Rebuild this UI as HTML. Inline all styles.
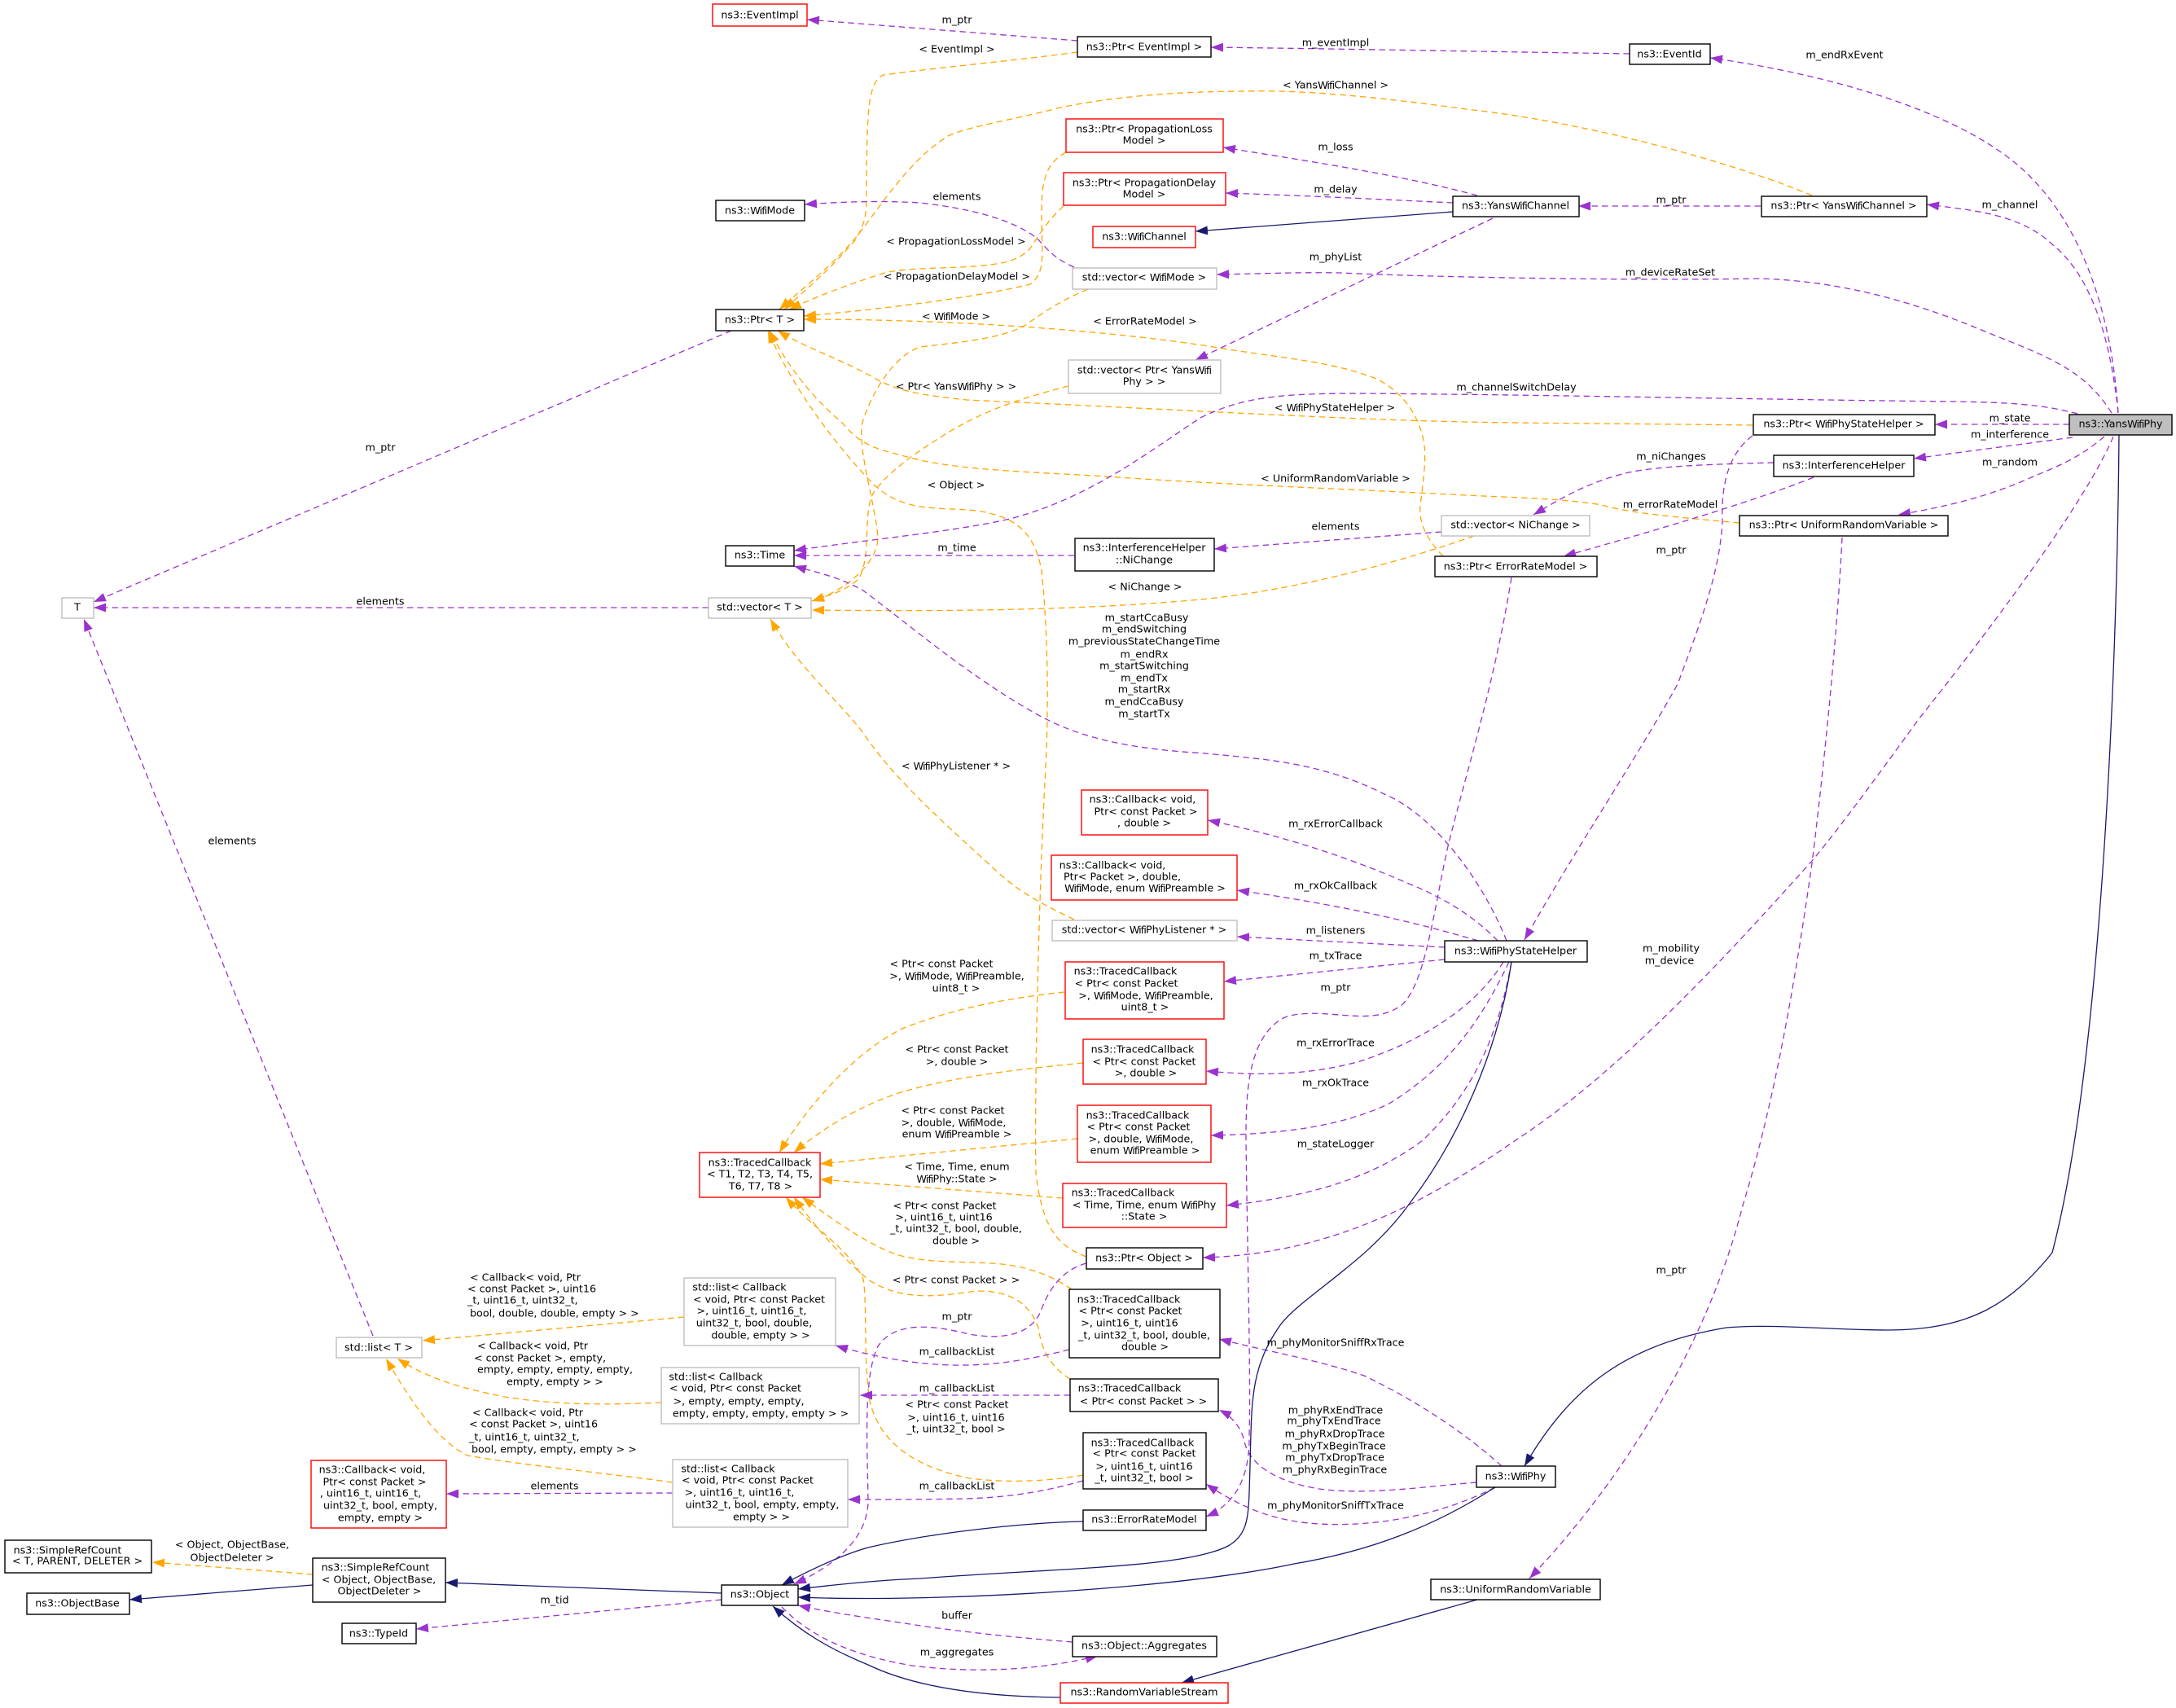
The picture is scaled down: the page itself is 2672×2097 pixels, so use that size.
<!DOCTYPE html>
<html><head><meta charset="utf-8"><style>
html,body{margin:0;padding:0;background:#fff}
svg{display:block}
text{font-family:"DejaVu Sans",sans-serif;font-size:12.7px;text-anchor:middle;dominant-baseline:central;fill:#000;stroke:none}
.s{text-anchor:start}
.f{letter-spacing:-.9px}
rect{fill:#fff;stroke-width:1.4}
.k rect{stroke:#000}.r rect{stroke:#f00}.g rect{stroke:#bfbfbf}
path{fill:none;stroke-width:1.3}
.P path{stroke:#9a32cd;stroke-dasharray:7.5,5;marker-end:url(#mp)}
.O path{stroke:#ffa500;stroke-dasharray:7.5,5;marker-end:url(#mo)}
.N path{stroke:#191970;marker-end:url(#mn)}
</style></head><body>
<svg xmlns="http://www.w3.org/2000/svg" width="2672" height="2097" viewBox="0 0 2672 2097">
<defs>
<marker id="mp" viewBox="0 0 15 11" refX="15" refY="5.5" markerWidth="15" markerHeight="11" orient="auto" markerUnits="userSpaceOnUse"><polygon points="0,0 15,5.5 0,11" fill="#9a32cd"/></marker>
<marker id="mo" viewBox="0 0 15 11" refX="15" refY="5.5" markerWidth="15" markerHeight="11" orient="auto" markerUnits="userSpaceOnUse"><polygon points="0,0 15,5.5 0,11" fill="#ffa500"/></marker>
<marker id="mn" viewBox="0 0 15 11" refX="15" refY="5.5" markerWidth="15" markerHeight="11" orient="auto" markerUnits="userSpaceOnUse"><polygon points="0,0 15,5.5 0,11" fill="#191970"/></marker>
</defs>
<g class="O">
<path d="M1323,64 C1250,74 1150,83 1085,92 C1065,100 1065,140 1064,223 C1064,260 1065,270 1050,295 C1020,330 990,355 963,380"/>
<path d="M2225,240 C2130,200 1950,150 1800,134 C1700,120 1600,110 1531,112 C1450,112 1370,118 1302,132 C1240,148 1190,155 1164,167 C1120,195 1090,240 1060,280 C1030,320 990,350 957,380"/>
<path d="M1309,187 C1285,200 1279,220 1279,260 C1279,310 1285,335 1265,349 C1200,365 1080,380 987,388"/>
<path d="M1306,253 C1285,272 1275,290 1265,305 C1250,320 1235,325 1180,328 C1130,330 1100,330 1080,337 C1040,350 1000,365 969,380"/>
<path d="M1772,683 C1750,660 1742,640 1744,620 C1748,590 1752,560 1748,540 C1740,505 1720,480 1690,465 C1640,445 1580,440 1508,429 C1400,410 1200,392 987,392"/>
<path d="M2152,522 C2000,520 1900,520 1800,518 C1650,515 1450,503 1187,491 C1130,485 1100,480 1070,462 C1030,440 985,425 955,406"/>
<path d="M2136,642 C2060,635 2000,630 1967,620 C1920,612 1860,611 1800,608 C1650,600 1500,595 1359,585 C1280,580 1190,578 1130,565 C1080,552 1060,550 1035,520 C1000,490 970,455 945,406"/>
<path d="M1334,1543 C1300,1530 1280,1510 1272,1440 C1270,1350 1275,1100 1285,923 C1288,830 1285,760 1279,700 C1270,655 1250,635 1200,627 C1150,622 1110,630 1072,594 C1020,540 970,470 943,406"/>
<path d="M1336,355 C1300,370 1280,385 1265,395 C1240,415 1180,420 1130,426 C1100,435 1070,480 1058,522 C1055,560 1075,620 1078,660 C1078,690 1040,725 997,738"/>
<path d="M1312,474 C1270,485 1210,500 1150,540 C1110,565 1080,590 1070,610 C1060,640 1070,680 1055,710 C1040,725 1020,730 997,738"/>
<path d="M1810,658 C1720,690 1590,725 1474,736 C1300,752 1100,750 997,749"/>
<path d="M1319,1129 C1280,1110 1250,1095 1220,1066 C1170,1020 1100,960 1060,900 C1030,860 980,820 946,760"/>
<path d="M1307,1218 C1250,1224 1180,1235 1110,1262 C1050,1290 990,1360 957,1415"/>
<path d="M1330,1305 C1260,1312 1180,1320 1110,1340 C1060,1355 1010,1385 975,1415"/>
<path d="M1323,1398 L1007,1429"/>
<path d="M1305,1471 L1007,1448"/>
<path d="M1316,1583 C1290,1565 1260,1555 1230,1552 C1190,1548 1140,1552 1100,1540 C1060,1525 1020,1495 985,1470"/>
<path d="M1314,1693 C1285,1675 1278,1650 1275,1630 C1262,1595 1235,1585 1200,1585 C1160,1590 1110,1600 1066,1571 C1030,1540 1000,1505 975,1470"/>
<path d="M1330,1811 C1280,1820 1230,1820 1190,1815 C1120,1800 1080,1770 1068,1720 C1060,1670 1065,1600 1060,1570 C1040,1530 1000,1510 965,1470"/>
<path d="M840,1617 L519,1646"/>
<path d="M812,1722 C750,1725 680,1725 620,1715 C570,1705 530,1695 488,1668"/>
<path d="M826,1820 C740,1808 650,1800 574,1787 C540,1770 510,1730 474,1668"/>
<path d="M384,1933 L187,1918"/>
</g>
<g class="P">
<path d="M1323,50 L991,24"/>
<path d="M2001,66 C1800,63 1650,60 1487,58"/>
<path d="M2601,507 C2592,370 2550,275 2495,219 C2420,140 2250,92 2100,71"/>
<path d="M2162,253 L1938,253"/>
<path d="M2601,507 C2592,420 2570,340 2520,300 C2480,262 2420,258 2366,251"/>
<path d="M2593,507 C2560,455 2520,440 2440,408 C2350,370 2260,345 2161,342 C2000,345 1750,340 1646,335 C1600,334 1550,336 1494,337"/>
<path d="M1814,240 C1720,215 1620,200 1502,181"/>
<path d="M1784,249 C1700,245 1600,240 1505,237"/>
<path d="M1833,268 L1468,442"/>
<path d="M2551,508 C2510,497 2470,494 2400,493 C2200,491 1900,485 1770,484 C1600,482 1540,480 1474,513 C1410,555 1340,610 1244,636 C1180,652 1060,663 975,676"/>
<path d="M2541,521 L2376,521"/>
<path d="M2545,537 L2350,563"/>
<path d="M2584,536 C2550,565 2520,575 2490,588 C2440,610 2390,622 2331,632"/>
<path d="M2595,536 C2560,620 2430,790 2356,883 C2300,960 2260,1015 2225,1057 C2150,1140 2000,1310 1861,1400 C1760,1470 1640,1540 1477,1544"/>
<path d="M2262,660 C2255,800 2235,980 2225,1060 C2205,1200 2180,1350 2140,1480 C2100,1640 2000,1810 1878,1938"/>
<path d="M1334,1551 C1300,1560 1285,1590 1278,1610 C1265,1640 1230,1645 1190,1638 C1150,1628 1100,1620 1078,1653 C1060,1690 1065,1770 1066,1844 C1065,1880 1040,1915 975,1945"/>
<path d="M898,406 L115,739"/>
<path d="M870,746 L115,746"/>
<path d="M458,1640 L103,760"/>
<path d="M1319,328 C1295,318 1285,305 1273,292 C1240,268 1190,256 1130,249 C1080,246 1030,248 988,251"/>
<path d="M1319,682 L975,682"/>
<path d="M1770,653 L1491,674"/>
<path d="M2178,568 C2100,570 2040,572 2000,580 C1950,592 1920,610 1883,632"/>
<path d="M2227,586 C2150,617 2020,655 1920,683"/>
<path d="M2152,535 C2125,555 2113,590 2115,640 C2112,700 2090,760 2060,840 C2010,930 1930,1050 1872,1154"/>
<path d="M1856,709 C1835,840 1800,950 1778,1039 C1760,1120 1750,1210 1720,1235 C1680,1262 1630,1235 1580,1248 C1530,1270 1530,1350 1530,1400 C1532,1550 1536,1700 1534,1760 C1535,1810 1520,1845 1481,1862"/>
<path d="M1850,1155 C1820,1080 1760,1000 1700,975 C1620,935 1550,932 1480,925 C1400,920 1330,910 1270,875 C1190,830 1120,770 1060,725 C1030,708 1000,702 975,695"/>
<path d="M1839,1155 C1815,1130 1780,1105 1730,1085 C1650,1050 1570,1025 1483,1007"/>
<path d="M1815,1155 C1730,1130 1640,1110 1519,1093"/>
<path d="M1774,1163 L1519,1150"/>
<path d="M1774,1178 L1503,1205"/>
<path d="M1846,1181 C1810,1240 1740,1280 1670,1303 C1600,1322 1540,1320 1481,1315"/>
<path d="M1853,1181 C1820,1250 1780,1310 1704,1356 C1640,1385 1570,1392 1487,1394"/>
<path d="M1856,1181 C1840,1270 1810,1340 1747,1400 C1680,1450 1600,1470 1506,1480"/>
<path d="M1844,1800 C1800,1760 1740,1720 1675,1689 C1620,1670 1560,1660 1497,1644"/>
<path d="M1813,1820 C1750,1825 1680,1836 1620,1828 C1570,1820 1535,1800 1528,1770 C1525,1755 1515,1740 1497,1731"/>
<path d="M1836,1826 C1770,1860 1690,1875 1620,1871 C1570,1868 1530,1855 1481,1822"/>
<path d="M1313,1657 C1260,1670 1220,1677 1170,1676 C1120,1675 1070,1665 1026,1652"/>
<path d="M1314,1713 L1056,1713"/>
<path d="M1330,1818 C1280,1832 1240,1838 1187,1840 C1140,1841 1090,1841 1041,1841"/>
<path d="M826,1833 L548,1834"/>
<path d="M886,1964 L511,2000"/>
<path d="M1317,2016 C1240,2010 1180,2003 1130,1996 C1080,1988 1030,1982 980,1971"/>
<path d="M960,1973 C1000,2015 1060,2035 1120,2045 C1200,2055 1280,2050 1348,2033"/>
</g>
<g class="N">
<path d="M1784,260 L1468,284"/>
<path d="M2602,534 C2600,800 2582,1300 2520,1538 C2470,1600 2420,1633 2317,1633 C2250,1633 2180,1625 2120,1630 C2000,1650 1930,1700 1872,1800"/>
<path d="M1836,1826 C1760,1875 1680,1905 1589,1920 C1450,1950 1150,1968 980,1961"/>
<path d="M1856,1181 C1840,1290 1790,1400 1732,1476 C1680,1550 1600,1590 1572,1627 C1535,1680 1537,1720 1535,1800 C1533,1860 1535,1880 1510,1897 C1460,1925 1300,1925 1130,1938 C1080,1940 1030,1945 980,1951"/>
<path d="M1330,1868 C1240,1870 1130,1885 1066,1900 C1030,1910 990,1930 960,1946"/>
<path d="M1302,2084 C1200,2083 1120,2070 1066,2044 C1020,2025 985,2005 949,1972"/>
<path d="M1814,1964 L1451,2066"/>
<path d="M384,1946 L159,1964"/>
<path d="M886,1956 L547,1943"/>
</g>
<g class="k">
<rect x="1323" y="45" width="164" height="25"/>
<rect x="2001" y="54" width="99" height="25"/>
<rect x="1784" y="241" width="155" height="25"/>
<rect x="2163" y="241" width="203" height="25"/>
<rect x="2153" y="509" width="223" height="25"/>
<rect x="2178" y="559" width="172" height="26"/>
<rect x="2136" y="633" width="256" height="25"/>
<rect x="1762" y="683" width="199" height="25"/>
<rect x="879" y="246" width="109" height="25"/>
<rect x="879" y="380" width="108" height="26"/>
<rect x="891" y="670" width="84" height="25"/>
<rect x="1320" y="661" width="171" height="40"/>
<rect x="1774" y="1155" width="175" height="26"/>
<rect x="1334" y="1532" width="143" height="26"/>
<rect x="1313" y="1583" width="185" height="84"/>
<rect x="1314" y="1693" width="182" height="40"/>
<rect x="1330" y="1759" width="151" height="69"/>
<rect x="1330" y="1854" width="151" height="25"/>
<rect x="1813" y="1800" width="97" height="26"/>
<rect x="1757" y="1939" width="208" height="25"/>
<rect x="886" y="1946" width="94" height="25"/>
<rect x="1317" y="2009" width="177" height="25"/>
<rect x="6" y="1891" width="180" height="40"/>
<rect x="384" y="1913" width="163" height="54"/>
<rect x="33" y="1956" width="126" height="26"/>
<rect x="420" y="1993" width="91" height="25"/>
</g>
<g class="r">
<rect x="875" y="5" width="116" height="27"/>
<rect x="1309" y="146" width="193" height="41"/>
<rect x="1306" y="212" width="199" height="40"/>
<rect x="1342" y="278" width="126" height="26"/>
<rect x="1328" y="970" width="155" height="55"/>
<rect x="1291" y="1050" width="228" height="55"/>
<rect x="1308" y="1181" width="195" height="70"/>
<rect x="1330" y="1276" width="151" height="55"/>
<rect x="1323" y="1357" width="164" height="70"/>
<rect x="859" y="1415" width="148" height="55"/>
<rect x="1305" y="1453" width="201" height="54"/>
<rect x="382" y="1793" width="166" height="83"/>
<rect x="1302" y="2066" width="206" height="25"/>
</g>
<g class="g">
<rect x="1317" y="329" width="177" height="26"/>
<rect x="1312" y="442" width="187" height="41"/>
<rect x="1770" y="633" width="182" height="25"/>
<rect x="76" y="734" width="39" height="25"/>
<rect x="870" y="734" width="126" height="25"/>
<rect x="1292" y="1130" width="227" height="25"/>
<rect x="413" y="1642" width="105" height="25"/>
<rect x="840" y="1569" width="186" height="83"/>
<rect x="812" y="1679" width="243" height="69"/>
<rect x="826" y="1792" width="215" height="83"/>
</g>
<rect x="2541" y="509" width="126" height="25" style="fill:#bfbfbf;stroke:#000"/>

<!-- node labels -->
<text x="933" y="18">ns3::EventImpl</text>
<text x="1405" y="57">ns3::Ptr&lt; EventImpl &gt;</text>
<text x="2050" y="66">ns3::EventId</text>
<text x="1405" y="158">ns3::Ptr&lt; PropagationLoss</text><text x="1405" y="172">Model &gt;</text>
<text x="1405" y="224">ns3::Ptr&lt; PropagationDelay</text><text x="1405" y="238">Model &gt;</text>
<text x="1405" y="290">ns3::<tspan class="f">Wifi</tspan>Channel</text>
<text x="1861" y="252">ns3::Yans<tspan class="f">Wifi</tspan>Channel</text>
<text x="2264" y="252">ns3::Ptr&lt; Yans<tspan class="f">Wifi</tspan>Channel &gt;</text>
<text x="933" y="258">ns3::<tspan class="f">Wifi</tspan>Mode</text>
<text x="1405" y="340">std::vector&lt; <tspan class="f">Wifi</tspan>Mode &gt;</text>
<text x="933" y="392">ns3::Ptr&lt; T &gt;</text>
<text x="1405" y="454">std::vector&lt; Ptr&lt; Yans<tspan class="f">Wifi</tspan></text><text x="1405" y="468">Phy &gt; &gt;</text>
<text x="2264" y="520">ns3::Ptr&lt; <tspan class="f">Wifi</tspan>PhyStateHelper &gt;</text>
<text x="2604" y="520">ns3::Yans<tspan class="f">Wifi</tspan>Phy</text>
<text x="2264" y="571">ns3::InterferenceHelper</text>
<text x="2264" y="644">ns3::Ptr&lt; UniformRandomVariable &gt;</text>
<text x="1861" y="644">std::vector&lt; NiChange &gt;</text>
<text x="1861" y="695">ns3::Ptr&lt; ErrorRateModel &gt;</text>
<text x="933" y="681">ns3::Time</text>
<text x="1405" y="672">ns3::InterferenceHelper</text><text x="1405" y="687">::NiChange</text>
<text x="95" y="745">T</text>
<text x="933" y="745">std::vector&lt; T &gt;</text>
<text x="1403" y="981">ns3::Callback&lt; void,</text><text x="1407" y="996">Ptr&lt; const Packet &gt;</text><text x="1405" y="1010">, double &gt;</text>
<text x="1366" y="1062">ns3::Callback&lt; void,</text><text x="1378" y="1076">Ptr&lt; Packet &gt;, double,</text><text x="1406" y="1090"><tspan class="f">Wifi</tspan>Mode, enum <tspan class="f">Wifi</tspan>Preamble &gt;</text>
<text x="1405" y="1141">std::vector&lt; <tspan class="f">Wifi</tspan>PhyListener * &gt;</text>
<text x="1861" y="1167">ns3::<tspan class="f">Wifi</tspan>PhyStateHelper</text>
<text x="1382" y="1192">ns3::TracedCallback</text><text x="1383" y="1207">&lt; Ptr&lt; const Packet</text><text x="1407" y="1222">&gt;, <tspan class="f">Wifi</tspan>Mode, <tspan class="f">Wifi</tspan>Preamble,</text><text x="1406" y="1236">uint8_t &gt;</text>
<text x="1403" y="1288">ns3::TracedCallback</text><text x="1405" y="1303">&lt; Ptr&lt; const Packet</text><text x="1407" y="1317">&gt;, double &gt;</text>
<text x="1397" y="1369">ns3::TracedCallback</text><text x="1398" y="1383">&lt; Ptr&lt; const Packet</text><text x="1401" y="1398">&gt;, double, <tspan class="f">Wifi</tspan>Mode,</text><text x="1406" y="1412">enum <tspan class="f">Wifi</tspan>Preamble &gt;</text>
<text x="933" y="1427">ns3::TracedCallback</text><text x="933" y="1441">&lt; T1, T2, T3, T4, T5,</text><text x="934" y="1456">T6, T7, T8 &gt;</text>
<text x="1379" y="1464">ns3::TracedCallback</text><text x="1405" y="1479">&lt; Time, Time, enum <tspan class="f">Wifi</tspan>Phy</text><text x="1405" y="1493">::State &gt;</text>
<text x="1405" y="1544">ns3::Ptr&lt; Object &gt;</text>
<text x="1386" y="1595">ns3::TracedCallback</text><text x="1388" y="1609">&lt; Ptr&lt; const Packet</text><text x="1387" y="1624">&gt;, uint16_t, uint16</text><text x="1405" y="1639">_t, uint32_t, bool, double,</text><text x="1406" y="1653">double &gt;</text>
<text x="1387" y="1704">ns3::TracedCallback</text><text x="1404" y="1720">&lt; Ptr&lt; const Packet &gt; &gt;</text>
<text x="1403" y="1771">ns3::TracedCallback</text><text x="1405" y="1784">&lt; Ptr&lt; const Packet</text><text x="1405" y="1800">&gt;, uint16_t, uint16</text><text x="1405" y="1814">_t, uint32_t, bool &gt;</text>
<text x="1405" y="1865">ns3::ErrorRateModel</text>
<text x="1861" y="1812">ns3::<tspan class="f">Wifi</tspan>Phy</text>
<text x="1861" y="1951">ns3::UniformRandomVariable</text>
<text x="933" y="1957">ns3::Object</text>
<text x="1405" y="2020">ns3::Object::Aggregates</text>
<text x="1405" y="2077">ns3::RandomVariableStream</text>
<text x="908" y="1580">std::list&lt; Callback</text><text x="932" y="1595">&lt; void, Ptr&lt; const Packet</text><text x="923" y="1609">&gt;, uint16_t, uint16_t,</text><text x="926" y="1624">uint32_t, bool, double,</text><text x="934" y="1639">double, empty &gt; &gt;</text>
<text x="879" y="1690">std::list&lt; Callback</text><text x="903" y="1704">&lt; void, Ptr&lt; const Packet</text><text x="907" y="1720">&gt;, empty, empty, empty,</text><text x="934" y="1735">empty, empty, empty, empty &gt; &gt;</text>
<text x="894" y="1803">std::list&lt; Callback</text><text x="918" y="1817">&lt; void, Ptr&lt; const Packet</text><text x="908" y="1832">&gt;, uint16_t, uint16_t,</text><text x="936" y="1847">uint32_t, bool, empty, empty,</text><text x="935" y="1862">empty &gt; &gt;</text>
<text x="465" y="1654">std::list&lt; T &gt;</text>
<text x="457" y="1804">ns3::Callback&lt; void,</text><text x="460" y="1819">Ptr&lt; const Packet &gt;</text><text x="455" y="1833">, uint16_t, uint16_t,</text><text x="467" y="1848">uint32_t, bool, empty,</text><text x="467" y="1863">empty, empty &gt;</text>
<text x="83" y="1903">ns3::SimpleRefCount</text><text x="95" y="1916">&lt; T, PARENT, DELETER &gt;</text>
<text x="461" y="1924">ns3::SimpleRefCount</text><text x="465" y="1939">&lt; Object, ObjectBase,</text><text x="466" y="1953">ObjectDeleter &gt;</text>
<text x="95" y="1968">ns3::ObjectBase</text>
<text x="465" y="2005">ns3::TypeId</text>

<!-- edge labels -->
<text x="467" y="549">m_ptr</text>
<text x="1175" y="24">m_ptr</text>
<text x="1175" y="60">&lt; EventImpl &gt;</text>
<text x="1640" y="52">m_eventImpl</text>
<text x="1640" y="104">&lt; Yans<tspan class="f">Wifi</tspan>Channel &gt;</text>
<text x="1640" y="180">m_loss</text>
<text x="1640" y="232">m_delay</text>
<text x="1175" y="241">elements</text>
<text x="1640" y="315">m_phyList</text>
<text x="1174" y="296">&lt; PropagationLossModel &gt;</text>
<text x="1175" y="339">&lt; PropagationDelayModel &gt;</text>
<text x="1174" y="388">&lt; <tspan class="f">Wifi</tspan>Mode &gt;</text>
<text x="1406" y="394">&lt; ErrorRateModel &gt;</text>
<text x="1174" y="474">&lt; Ptr&lt; Yans<tspan class="f">Wifi</tspan>Phy &gt; &gt;</text>
<text x="1639" y="500">&lt; <tspan class="f">Wifi</tspan>PhyStateHelper &gt;</text>
<text x="1640" y="587">&lt; UniformRandomVariable &gt;</text>
<text x="1174" y="595">&lt; Object &gt;</text>
<text x="1640" y="646">elements</text>
<text x="1175" y="672">m_time</text>
<text x="2265" y="67">m_endRxEvent</text>
<text x="2052" y="245">m_ptr</text>
<text x="2468" y="251">m_channel</text>
<text x="2051" y="334">m_deviceRateSet</text>
<text x="1862" y="475">m_channelSwitchDelay</text>
<text x="2468" y="513">m_state</text>
<text x="2468" y="533">m_interference</text>
<text x="2052" y="560">m_niChanges</text>
<text x="2468" y="567">m_random</text>
<text x="2051" y="619">m_errorRateModel</text>
<text x="2052" y="675">m_ptr</text>
<text x="467" y="738">elements</text>
<text x="285" y="1032">elements</text>
<text x="1406" y="720">&lt; NiChange &gt;</text>
<text x="1408" y="758">m_startCcaBusy</text><text x="1405" y="772">m_endSwitching</text><text x="1405" y="787">m_previousStateChangeTime</text><text x="1405" y="803">m_endRx</text><text x="1405" y="817">m_startSwitching</text><text x="1405" y="832">m_endTx</text><text x="1405" y="846">m_startRx</text><text x="1405" y="861">m_endCcaBusy</text><text x="1405" y="876">m_startTx</text>
<text x="1174" y="940">&lt; <tspan class="f">Wifi</tspan>PhyListener * &gt;</text>
<text x="1640" y="1011">m_rxErrorCallback</text>
<text x="1640" y="1087">m_rxOkCallback</text>
<text x="1640" y="1142">m_listeners</text>
<text x="1640" y="1173">m_txTrace</text>
<text x="1640" y="1212">m_ptr</text>
<text x="1156" y="1183">&lt; Ptr&lt; const Packet</text><text x="1175" y="1198">&gt;, <tspan class="f">Wifi</tspan>Mode, <tspan class="f">Wifi</tspan>Preamble,</text><text x="1174" y="1213">uint8_t &gt;</text>
<text x="1175" y="1288">&lt; Ptr&lt; const Packet</text><text x="1175" y="1303">&gt;, double &gt;</text>
<text x="1640" y="1280">m_rxErrorTrace</text>
<text x="1640" y="1329">m_rxOkTrace</text>
<text x="1170" y="1363">&lt; Ptr&lt; const Packet</text><text x="1171" y="1378">&gt;, double, <tspan class="f">Wifi</tspan>Mode,</text><text x="1175" y="1392">enum <tspan class="f">Wifi</tspan>Preamble &gt;</text>
<text x="2052" y="1164">m_mobility</text><text x="2050" y="1179">m_device</text>
<text x="1640" y="1404">m_stateLogger</text>
<text x="1175" y="1432">&lt; Time, Time, enum</text><text x="1175" y="1447"><tspan class="f">Wifi</tspan>Phy::State &gt;</text>
<text x="1160" y="1480">&lt; Ptr&lt; const Packet</text><text x="1159" y="1494">&gt;, uint16_t, uint16</text><text x="1174" y="1508">_t, uint32_t, bool, double,</text><text x="1174" y="1523">double &gt;</text>
<text x="1174" y="1571">&lt; Ptr&lt; const Packet &gt; &gt;</text>
<text x="1175" y="1616">m_ptr</text>
<text x="1175" y="1659">m_callbackList</text>
<text x="1640" y="1648">m_phyMonitorSniffRxTrace</text>
<text x="1175" y="1704">m_callbackList</text>
<text x="1175" y="1724">&lt; Ptr&lt; const Packet</text><text x="1174" y="1740">&gt;, uint16_t, uint16</text><text x="1174" y="1754">_t, uint32_t, bool &gt;</text>
<text x="1640" y="1731">m_phyRxEndTrace</text><text x="1638" y="1744">m_phyTxEndTrace</text><text x="1639" y="1760">m_phyRxDropTrace</text><text x="1638" y="1775">m_phyTxBeginTrace</text><text x="1639" y="1789">m_phyTxDropTrace</text><text x="1639" y="1804">m_phyRxBeginTrace</text>
<text x="1175" y="1824">m_callbackList</text>
<text x="1640" y="1848">m_phyMonitorSniffTxTrace</text>
<text x="1175" y="1983">buffer</text>
<text x="1175" y="2028">m_aggregates</text>
<text x="2052" y="1559">m_ptr</text>
<text class="s" x="577" y="1568">&lt; Callback&lt; void, Ptr</text><text class="s" x="574" y="1582">&lt; const Packet &gt;, uint16</text><text class="s" x="574" y="1596">_t, uint16_t, uint32_t,</text><text class="s" x="577" y="1612">bool, double, double, empty &gt; &gt;</text>
<text class="s" x="586" y="1652">&lt; Callback&lt; void, Ptr</text><text class="s" x="582" y="1667">&lt; const Packet &gt;, empty,</text><text class="s" x="586" y="1681">empty, empty, empty, empty,</text><text class="s" x="622" y="1696">empty, empty &gt; &gt;</text>
<text class="s" x="580" y="1734">&lt; Callback&lt; void, Ptr</text><text class="s" x="576" y="1748">&lt; const Packet &gt;, uint16</text><text class="s" x="576" y="1764">_t, uint16_t, uint32_t,</text><text class="s" x="579" y="1779">bool, empty, empty, empty &gt; &gt;</text>
<text x="285" y="1896">&lt; Object, ObjectBase,</text><text x="285" y="1912">ObjectDeleter &gt;</text>
<text x="681" y="1824">elements</text>
<text x="681" y="1964">m_tid</text>
</svg>
</body></html>
